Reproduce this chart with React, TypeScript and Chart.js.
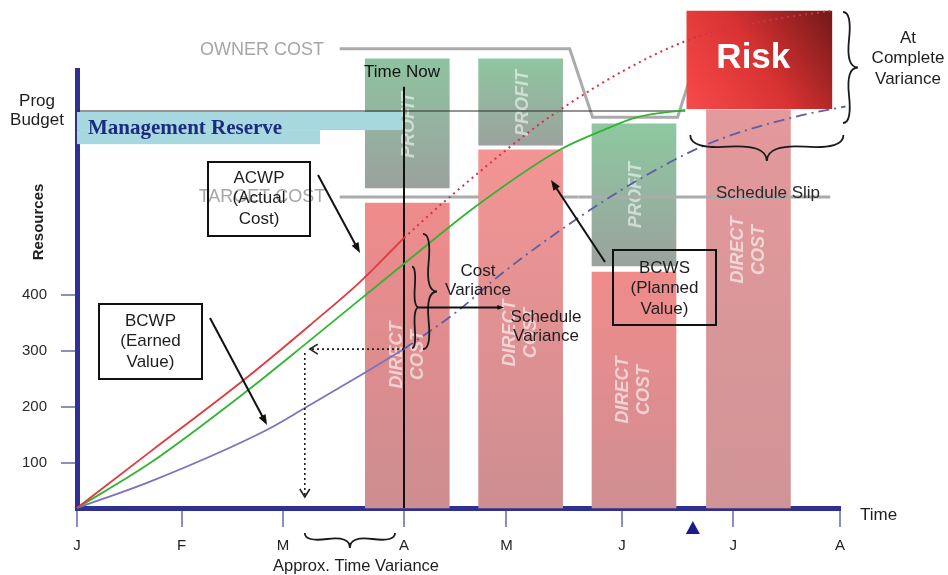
import React, { useEffect, useRef } from 'react';
import { Chart, registerables } from 'chart.js';

Chart.register(...registerables);

const SANS = '"Liberation Sans", Arial, Helvetica, sans-serif';
const SERIF = '"Liberation Serif", "Times New Roman", serif';

// ---- axes ----
const monthLabels = ['J', 'F', 'M', 'A', 'M', 'J', 'J', 'A'];
const monthTicks = [0, 0.96, 1.89, 3.0, 3.94, 5.0, 6.02, 7.0];
const resourceTicks = [100, 200, 300, 400];
const resourceMin = 20;
const resourceMax = 800;

// ---- programme status ----
const progBudget = 727;
const timeNow = 3.0;
const timeNowTop = 770;
const timeVarianceMonth = 2.09;
const completionMonth = 5.65;

// ---- ACWP (actual cost) ----
const acwpMonths = [0, 0.67, 1.53, 2.14, 2.6, 3.0];
const acwpValues = [20, 120, 248, 346, 423, 501];
const acwpForecastMonths = [3.0, 3.42, 4.43, 5.6, 6.36, 6.91];
const acwpForecastValues = [501, 574, 729, 853, 889, 905];

// ---- BCWS (planned value) ----
const bcwsMonths = [0, 0.67, 1.57, 2.14, 3.0, 3.7, 4.43, 4.83, 5.14, 5.58];
const bcwsValues = [20, 100, 230, 319, 455, 563, 658, 693, 716, 729];

// ---- BCWP (earned value) ----
const bcwpMonths = [0, 0.67, 1.74, 2.09, 2.66, 3.0];
const bcwpValues = [20, 67, 159, 198, 263, 303];
const bcwpForecastMonths = [3.0, 3.5, 3.88, 4.61, 5.2, 5.81, 6.66, 7.05];
const bcwpForecastValues = [303, 372, 435, 538, 610, 670, 720, 735];

// ---- cost columns ----
const columnMonths = [3.03, 4.07, 5.11, 6.16];
const directCostLow = [20, 20, 20, 20];
const directCostHigh = [563, 658, 440, 729];
const profitMonths = [3.03, 4.07, 5.11];
const profitLow = [590, 666, 451];
const profitHigh = [820, 820, 704];
const riskMonth = 6.26;
const riskLow = 731;
const riskHigh = 905;

// ---- owner / target cost ----
const ownerCostMonths = [2.41, 4.52, 4.73, 5.51, 5.71];
const ownerCostValues = [838, 838, 716, 716, 838];
const targetCost = 574;
const targetCostMonths = [2.41, 4.6, 6.91];

// ---- management reserve (upper band, lower band) ----
const reserveEndMonths = [2.98, 2.23];
const reserveLowValues = [693, 668];

const zip = (xs: number[], ys: number[]) => xs.map((x, i) => ({ x, y: ys[i] }));

const directTopColors = ['#ef8b8b', '#f49494', '#f08b8b', '#e4999b'];
const directBottomColors = ['#cd8e91', '#cd8e91', '#cf8f92', '#d09497'];
const profitTopColors = ['#8ec39f', '#8fc6a0', '#8dc8a0'];

function brace(ctx: CanvasRenderingContext2D, x1: number, y1: number, x2: number, y2: number, w: number, q = 0.6) {
  let dx = x1 - x2;
  let dy = y1 - y2;
  const len = Math.hypot(dx, dy);
  dx /= len;
  dy /= len;
  const qx1 = x1 + q * w * dy, qy1 = y1 - q * w * dx;
  const qx2 = x1 - 0.25 * len * dx + (1 - q) * w * dy, qy2 = y1 - 0.25 * len * dy - (1 - q) * w * dx;
  const tx = x1 - 0.5 * len * dx + w * dy, ty = y1 - 0.5 * len * dy - w * dx;
  const qx3 = x2 + q * w * dy, qy3 = y2 - q * w * dx;
  const qx4 = x1 - 0.75 * len * dx + (1 - q) * w * dy, qy4 = y1 - 0.75 * len * dy - (1 - q) * w * dx;
  ctx.save();
  ctx.strokeStyle = '#1a1a1a';
  ctx.lineWidth = 1.8;
  ctx.beginPath();
  ctx.moveTo(x1, y1);
  ctx.quadraticCurveTo(qx1, qy1, qx2, qy2);
  ctx.quadraticCurveTo(2 * qx2 - qx1, 2 * qy2 - qy1, tx, ty);
  ctx.moveTo(x2, y2);
  ctx.quadraticCurveTo(qx3, qy3, qx4, qy4);
  ctx.quadraticCurveTo(2 * qx4 - qx3, 2 * qy4 - qy3, tx, ty);
  ctx.stroke();
  ctx.restore();
}

function text(ctx: CanvasRenderingContext2D, lines: string[], x: number, y: number, font: string, color: string, lh = 20, align: CanvasTextAlign = 'center') {
  ctx.save();
  ctx.font = font;
  ctx.fillStyle = color;
  ctx.textAlign = align;
  ctx.textBaseline = 'middle';
  lines.forEach((s, i) => ctx.fillText(s, x, y + i * lh));
  ctx.restore();
}

function rotatedText(ctx: CanvasRenderingContext2D, lines: string[], cx: number, cy: number, font: string, color: string, lh = 20) {
  ctx.save();
  ctx.translate(cx, cy);
  ctx.rotate(-Math.PI / 2);
  ctx.font = font;
  ctx.fillStyle = color;
  ctx.textAlign = 'center';
  ctx.textBaseline = 'middle';
  const n = lines.length;
  lines.forEach((s, i) => ctx.fillText(s, 0, (i - (n - 1) / 2) * lh));
  ctx.restore();
}

function arrow(ctx: CanvasRenderingContext2D, x1: number, y1: number, x2: number, y2: number, head = 11) {
  const a = Math.atan2(y2 - y1, x2 - x1);
  ctx.save();
  ctx.strokeStyle = '#111';
  ctx.fillStyle = '#111';
  ctx.lineWidth = 2;
  ctx.beginPath();
  ctx.moveTo(x1, y1);
  ctx.lineTo(x2 - Math.cos(a) * head * 0.7, y2 - Math.sin(a) * head * 0.7);
  ctx.stroke();
  ctx.beginPath();
  ctx.moveTo(x2, y2);
  ctx.lineTo(x2 - head * Math.cos(a - 0.36), y2 - head * Math.sin(a - 0.36));
  ctx.lineTo(x2 - head * Math.cos(a + 0.36), y2 - head * Math.sin(a + 0.36));
  ctx.closePath();
  ctx.fill();
  ctx.restore();
}

function box(ctx: CanvasRenderingContext2D, x: number, y: number, w: number, h: number) {
  ctx.save();
  ctx.strokeStyle = '#111';
  ctx.lineWidth = 2;
  ctx.strokeRect(x, y, w, h);
  ctx.restore();
}

const evmAnnotations = {
  id: 'evmAnnotations',
  afterDatasetDraw(chart: any, args: any) {
    const ds = chart.data.datasets[args.index];
    const ctx: CanvasRenderingContext2D = chart.ctx;
    const xs = chart.scales.x;
    const ys = chart.scales.y;
    if (ds.label === 'Profit') {
      const profitTextY = [125, 103, 195];
      const directTextY = [355, 333, 390, 250];
      profitMonths.forEach((m, i) => {
        rotatedText(ctx, ['PROFIT'], xs.getPixelForValue(m) + 2, profitTextY[i], `italic bold 18px ${SANS}`, 'rgba(255,255,255,0.55)');
      });
      columnMonths.forEach((m, i) => {
        rotatedText(ctx, ['DIRECT', 'COST'], xs.getPixelForValue(m), directTextY[i], `italic bold 18px ${SANS}`, 'rgba(255,255,255,0.6)', 21);
      });
    }
    if (ds.label === 'Risk') {
      text(ctx, ['Risk'], xs.getPixelForValue(riskMonth) - 6, 58, `bold 35px ${SANS}`, '#ffffff');
    }
    if (ds.label === 'Prog Budget') {
      const x0 = xs.getPixelForValue(0);
      const yTop = ys.getPixelForValue(progBudget) + 1;
      ctx.save();
      ctx.fillStyle = '#a8d8df';
      const yMid = ys.getPixelForValue(reserveLowValues[0]);
      const yLow = ys.getPixelForValue(reserveLowValues[1]);
      ctx.fillRect(x0, yTop, xs.getPixelForValue(reserveEndMonths[0]) - x0, yMid - yTop);
      ctx.fillRect(x0, yMid, xs.getPixelForValue(reserveEndMonths[1]) - x0, yLow - yMid);
      ctx.restore();
      text(ctx, ['Management Reserve'], 88, 129, `bold 21px ${SERIF}`, '#1c2a80', 20, 'left');
    }
  },
  afterDraw(chart: any) {
    const ctx: CanvasRenderingContext2D = chart.ctx;
    const xs = chart.scales.x;
    const ys = chart.scales.y;
    const px = (m: number) => xs.getPixelForValue(m);
    const py = (v: number) => ys.getPixelForValue(v);
    const gray = '#a6a6a6';
    const dark = '#1e1e1e';
    const f16 = `17px ${SANS}`;

    // cost reference labels
    text(ctx, ['OWNER COST'], 262, py(838) + 1, `18px ${SANS}`, gray);
    text(ctx, ['TARGET COST'], 262, py(targetCost), `18px ${SANS}`, gray);

    // callout boxes
    box(ctx, 208, 162, 102, 74);
    text(ctx, ['ACWP', '(Actual', 'Cost)'], 259, 178, f16, dark, 20.5);
    arrow(ctx, 318, 175, 360, 253);

    box(ctx, 99, 304, 103, 75);
    text(ctx, ['BCWP', '(Earned', 'Value)'], 150.5, 321, f16, dark, 20.5);
    arrow(ctx, 210, 318, 267, 425);

    box(ctx, 613, 250, 103, 75);
    text(ctx, ['BCWS', '(Planned', 'Value)'], 664.5, 268, f16, dark, 20.5);
    arrow(ctx, 605, 262, 551, 180);

    // time now
    text(ctx, ['Time Now'], px(timeNow) - 2, 72, f16, '#111');

    // y labels
    text(ctx, ['Prog', 'Budget'], 37, py(progBudget) - 10, f16, dark, 19);
    rotatedText(ctx, ['Resources'], 39, 222, `bold 15px ${SANS}`, '#222');

    // variances at time now
    const acwpNow = acwpValues[acwpValues.length - 1];
    const bcwpNow = bcwpValues[bcwpValues.length - 1];
    const bcwsNow = bcwsValues[bcwsMonths.indexOf(timeNow)];
    const tn = px(timeNow);
    brace(ctx, tn + 19, py(bcwpNow), tn + 19, py(acwpNow) - 4, 14);
    brace(ctx, tn + 8, py(bcwpNow) - 1, tn + 8, py(bcwsNow) + 3, 7);
    text(ctx, ['Cost', 'Variance'], 478, 271, f16, dark, 19);
    const svY = (py(bcwpNow) - 1 + py(bcwsNow) + 3) / 2;
    arrow(ctx, tn + 15, svY, 504, svY, 7);
    text(ctx, ['Schedule', 'Variance'], 546, 317, f16, dark, 19);

    // approximate time variance (dotted)
    const tv = px(timeVarianceMonth);
    const yb = py(bcwpNow);
    ctx.save();
    ctx.strokeStyle = '#222';
    ctx.lineWidth = 1.6;
    ctx.setLineDash([2, 3]);
    ctx.beginPath();
    ctx.moveTo(tn, yb);
    ctx.lineTo(tv + 5, yb);
    ctx.moveTo(tv, yb + 4);
    ctx.lineTo(tv, 497);
    ctx.stroke();
    ctx.setLineDash([]);
    ctx.beginPath();
    ctx.moveTo(tv + 13, yb - 5);
    ctx.lineTo(tv + 5, yb);
    ctx.lineTo(tv + 13, yb + 5);
    ctx.moveTo(tv - 5, 489);
    ctx.lineTo(tv, 497);
    ctx.lineTo(tv + 5, 489);
    ctx.stroke();
    ctx.restore();

    brace(ctx, tv, 533, tn - 9, 533, 15);
    text(ctx, ['Approx. Time Variance'], 356, 566, `16.5px ${SANS}`, dark);

    // schedule slip
    const slipStart = px(bcwsMonths[bcwsMonths.length - 1]) + 5;
    const slipEnd = px(bcwpForecastMonths[bcwpForecastMonths.length - 1]) - 2;
    brace(ctx, slipStart, 135, slipEnd, 135, 26, 0.55);
    text(ctx, ['Schedule Slip'], 768, 193, f16, '#2a2a2a');

    // at-complete variance
    brace(ctx, 843, 123, 843, 12, 15);
    text(ctx, ['At', 'Complete', 'Variance'], 908, 38, f16, dark, 20.5);

    // time axis label and completion marker
    text(ctx, ['Time'], 860, 515, f16, dark, 20, 'left');
    const cm = px(completionMonth);
    ctx.save();
    ctx.fillStyle = '#1b1b8c';
    ctx.beginPath();
    ctx.moveTo(cm, 521);
    ctx.lineTo(cm - 7, 534);
    ctx.lineTo(cm + 7, 534);
    ctx.closePath();
    ctx.fill();
    ctx.restore();
  },
};

export default function App() {
  const ref = useRef<HTMLCanvasElement>(null);

  useEffect(() => {
    if (!ref.current) return;
    Chart.defaults.font.family = SANS;

    const lineBase = { type: 'line', pointRadius: 0, pointHoverRadius: 0, fill: false, clip: false };
    const barBase = { type: 'bar', stack: 'cols', grouped: true, borderWidth: 0, clip: false };

    const directGradient = (c: any) => {
      const chart = c.chart;
      if (!chart.chartArea || c.type !== 'data') return '#e09294';
      const i = c.dataIndex;
      const top = chart.scales.y.getPixelForValue(directCostHigh[i]);
      const bottom = chart.scales.y.getPixelForValue(directCostLow[i]);
      const g = chart.ctx.createLinearGradient(0, top, 0, bottom);
      g.addColorStop(0, directTopColors[i]);
      g.addColorStop(1, directBottomColors[i]);
      return g;
    };
    const profitGradient = (c: any) => {
      const chart = c.chart;
      if (!chart.chartArea || c.type !== 'data') return '#94b09e';
      const i = c.dataIndex;
      const top = chart.scales.y.getPixelForValue(profitHigh[i]);
      const bottom = chart.scales.y.getPixelForValue(profitLow[i]);
      const g = chart.ctx.createLinearGradient(0, top, 0, bottom);
      g.addColorStop(0, profitTopColors[i]);
      g.addColorStop(1, '#9ba29e');
      return g;
    };
    const riskGradient = (c: any) => {
      const chart = c.chart;
      if (!chart.chartArea) return '#d03030';
      const cx = chart.scales.x.getPixelForValue(riskMonth);
      const g = chart.ctx.createLinearGradient(cx - 72, chart.scales.y.getPixelForValue(riskLow), cx + 72, chart.scales.y.getPixelForValue(riskHigh));
      g.addColorStop(0, '#f84a4a');
      g.addColorStop(0.5, '#d83232');
      g.addColorStop(1, '#741818');
      return g;
    };

    const chart = new Chart(ref.current, {
      type: 'line',
      data: {
        datasets: [
          { ...lineBase, label: 'ACWP', data: zip(acwpMonths, acwpValues), borderColor: '#e03a3e', borderWidth: 1.8, cubicInterpolationMode: 'monotone', order: 1 },
          { ...lineBase, label: 'ACWP forecast', data: zip(acwpForecastMonths, acwpForecastValues), borderColor: '#d23246', borderWidth: 2, borderDash: [2, 4], cubicInterpolationMode: 'monotone', order: 1 },
          { ...lineBase, label: 'BCWS', data: zip(bcwsMonths, bcwsValues), borderColor: '#31b531', borderWidth: 1.8, cubicInterpolationMode: 'monotone', order: 1 },
          { ...lineBase, label: 'BCWP', data: zip(bcwpMonths, bcwpValues), borderColor: '#7a73be', borderWidth: 1.8, cubicInterpolationMode: 'monotone', order: 1 },
          { ...lineBase, label: 'BCWP forecast', data: zip(bcwpForecastMonths, bcwpForecastValues), borderColor: '#5d5ea8', borderWidth: 1.8, borderDash: [11, 5, 2, 5], cubicInterpolationMode: 'monotone', order: 1 },
          { ...lineBase, label: 'Time Now', data: [{ x: timeNow, y: resourceMin }, { x: timeNow, y: timeNowTop }], borderColor: '#111', borderWidth: 2, order: 2 },
          { ...lineBase, label: 'Prog Budget', data: [{ x: 0, y: progBudget }, { x: bcwsMonths[bcwsMonths.length - 1], y: progBudget }], borderColor: '#2a2a2a', borderWidth: 1.2, order: 3 },
          { ...lineBase, label: 'Target cost (front)', data: [{ x: targetCostMonths[1], y: targetCost }, { x: targetCostMonths[2], y: targetCost }], borderColor: '#ababab', borderWidth: 3, order: 4 },
          { ...barBase, label: 'Risk', data: [{ x: riskMonth, y: [riskLow, riskHigh] }], barThickness: 145, backgroundColor: riskGradient, order: 5 },
          { ...lineBase, label: 'Owner cost', data: zip(ownerCostMonths, ownerCostValues), borderColor: '#ababab', borderWidth: 3, order: 6 },
          { ...barBase, label: 'Profit', data: profitMonths.map((m, i) => ({ x: m, y: [profitLow[i], profitHigh[i]] })), barThickness: 84, backgroundColor: profitGradient, order: 7 },
          { ...barBase, label: 'Direct cost', data: columnMonths.map((m, i) => ({ x: m, y: [directCostLow[i], directCostHigh[i]] })), barThickness: 84, backgroundColor: directGradient, order: 8 },
          { ...lineBase, label: 'Target cost', data: [{ x: targetCostMonths[0], y: targetCost }, { x: targetCostMonths[1], y: targetCost }], borderColor: '#ababab', borderWidth: 3, order: 9 },
        ] as any,
      },
      options: {
        responsive: false,
        animation: false,
        devicePixelRatio: 1,
        events: [],
        layout: { padding: { top: 70, right: 108, left: 0, bottom: 0 } },
        plugins: { legend: { display: false }, tooltip: { enabled: false } },
        scales: {
          x: {
            type: 'linear',
            min: 0,
            max: 7,
            offset: false,
            afterFit: (s: any) => { s.height = 67; },
            afterBuildTicks: (s: any) => { s.ticks = monthTicks.map((v) => ({ value: v })); },
            ticks: {
              autoSkip: false,
              maxRotation: 0,
              padding: 10,
              color: '#222',
              font: { size: 15, family: SANS },
              callback: (_v: any, i: number) => monthLabels[i],
            },
            grid: { offset: false, drawOnChartArea: false, drawTicks: true, tickLength: 19, color: '#8a90bd', lineWidth: 2 },
            border: { display: true, color: '#2e3192', width: 5 },
          },
          y: {
            type: 'linear',
            min: resourceMin,
            max: resourceMax,
            stacked: false,
            afterFit: (s: any) => { s.width = 77; },
            afterBuildTicks: (s: any) => { s.ticks = resourceTicks.map((v) => ({ value: v })); },
            ticks: { padding: 14, color: '#2a2a2a', font: { size: 15, family: SANS } },
            grid: { drawOnChartArea: false, drawTicks: true, tickLength: 16, color: '#8a90bd', lineWidth: 2 },
            border: { display: true, color: '#2e3192', width: 5 },
          },
        },
      } as any,
      plugins: [evmAnnotations],
    } as any);

    return () => chart.destroy();
  }, []);

  return (
    <div style={{ position: 'absolute', left: 0, top: 0, width: 948, height: 575, background: '#ffffff' }}>
      <canvas ref={ref} width={948} height={575} style={{ display: 'block', width: 948, height: 575 }} />
    </div>
  );
}
